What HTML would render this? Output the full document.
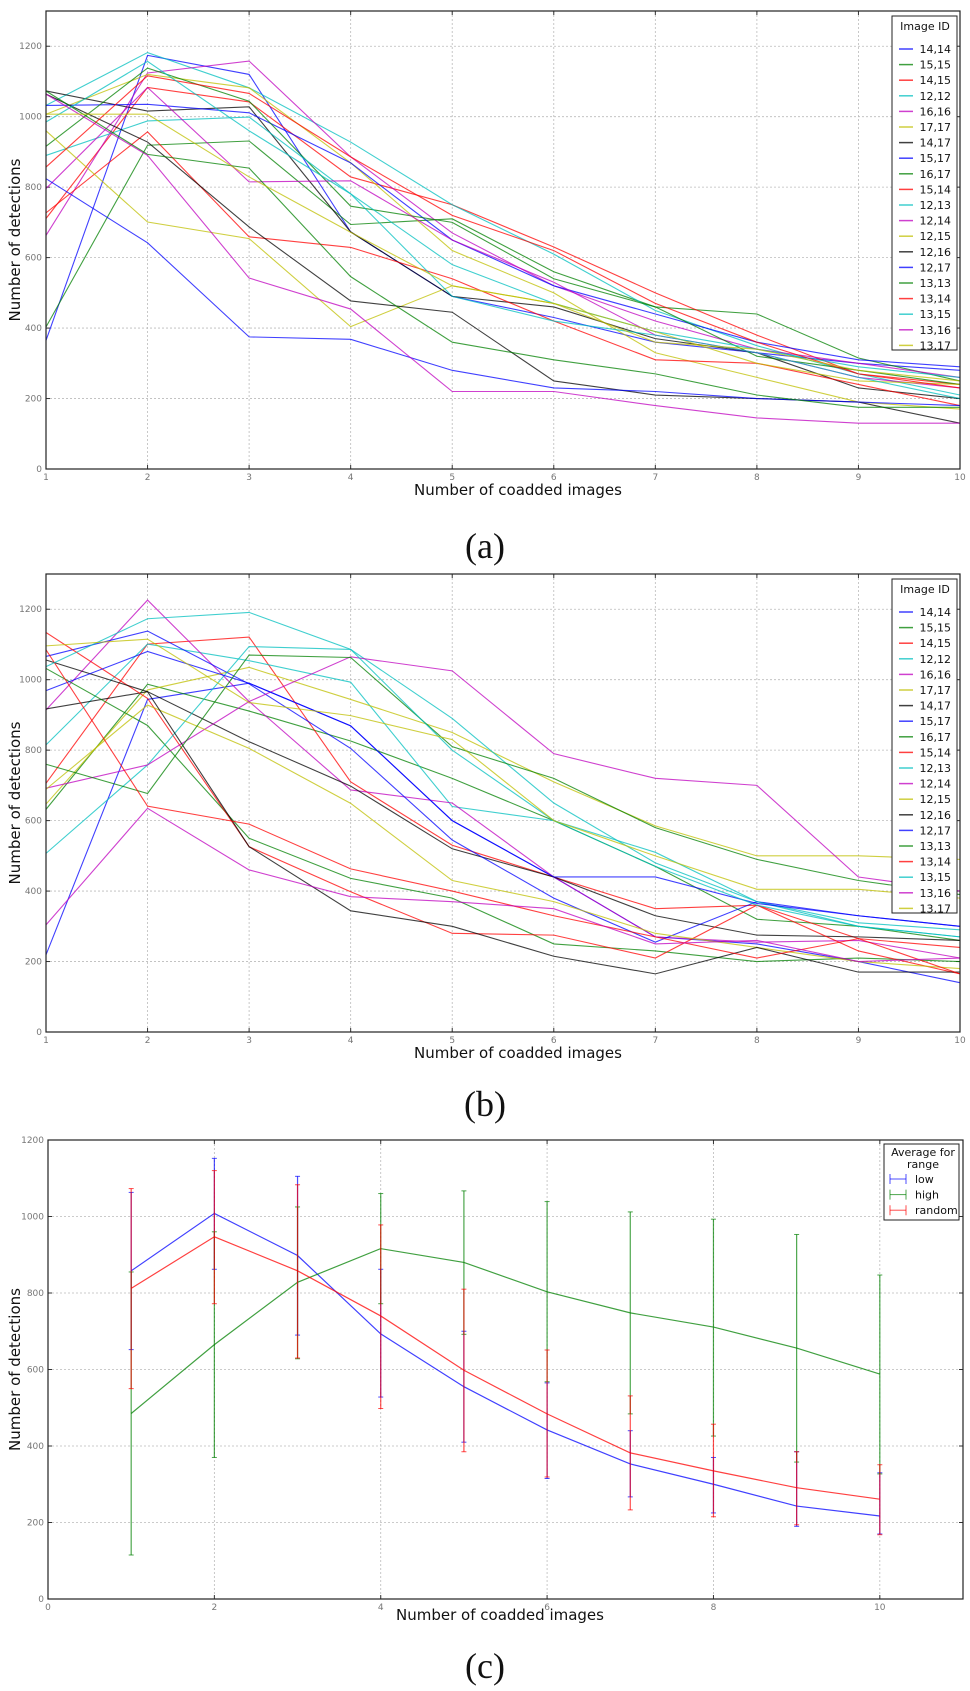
<!DOCTYPE html>
<html><head><meta charset="utf-8">
<style>
html,body{margin:0;padding:0;background:#fff;}
svg{display:block;font-family:"DejaVu Sans","Liberation Sans",sans-serif;}
.tick{font-size:9px;fill:#777;}
.axt{font-size:15px;fill:#111;}
.cap{font-family:"Liberation Serif",serif;font-size:36px;fill:#111;}
.leg{font-size:11px;fill:#111;}
</style></head>
<body>
<svg id="fig" width="970" height="1691" viewBox="0 0 970 1691" xmlns="http://www.w3.org/2000/svg">
<text class="cap" x="485" y="558" text-anchor="middle">(a)</text>
<text class="cap" x="485" y="1116" text-anchor="middle">(b)</text>
<text class="cap" x="485" y="1678" text-anchor="middle">(c)</text>
</svg>
<script>
const NS="http://www.w3.org/2000/svg";
const svg=document.getElementById('fig');
const ids=["14,14","15,15","14,15","12,12","16,16","17,17","14,17","15,17","16,17","15,14","12,13","12,14","12,15","12,16","12,17","13,13","13,14","13,15","13,16","13,17"];
const cycle=["#0000ff","#008000","#ff0000","#00bfbf","#bf00bf","#bfbf00","#000000"];
const xcats=[1,2,3,4,5,6,7,8,9,10];
const yticksAB=[0,200,400,600,800,1000,1200];
const seriesA=[
[365,1174,1120,673,490,430,360,330,300,280],
[403,919,931,694,710,560,460,440,315,250],
[711,1083,1042,829,750,630,500,380,270,240],
[1032,1182,1082,928,750,610,450,350,270,210],
[663,1124,1158,886,670,520,420,340,300,260],
[1007,1120,1082,869,620,500,330,260,190,170],
[1073,1016,1028,673,490,460,370,330,230,200],
[1032,1035,1011,869,650,520,440,360,310,290],
[916,1138,1044,746,700,540,460,320,280,240],
[727,957,659,629,540,420,310,300,240,180],
[890,988,999,781,580,470,390,340,290,260],
[796,1083,815,818,650,530,380,330,260,230],
[960,701,654,404,520,470,390,300,250,240],
[1064,928,687,477,445,250,210,200,190,130],
[824,642,375,368,280,230,220,200,190,180],
[1073,893,854,546,360,310,270,210,175,175],
[857,1116,1066,886,720,620,470,360,270,230],
[985,1157,960,781,490,420,380,330,260,200],
[1064,890,542,454,220,220,180,145,130,130],
[1007,1007,829,672,520,470,360,340,280,250]];
const seriesB=[
[219,944,990,869,600,440,270,250,200,140],
[632,987,911,826,720,600,470,320,300,260],
[706,1101,1121,710,530,440,350,360,265,240],
[815,1101,1054,993,640,600,510,370,310,290],
[914,1226,938,687,650,440,270,255,260,210],
[647,971,1035,944,850,710,585,500,500,490],
[917,966,824,698,520,440,330,275,270,260],
[1066,1138,988,805,545,380,255,370,330,300],
[1032,870,550,436,380,250,230,200,210,200],
[1134,947,526,398,280,275,210,360,230,165],
[507,758,1094,1086,890,650,480,370,300,270],
[692,758,938,1065,1025,790,720,700,440,400],
[689,928,805,649,430,370,280,240,200,180],
[1056,966,526,344,300,215,165,240,170,170],
[969,1080,990,869,600,440,440,365,330,300],
[760,677,1070,1063,810,720,580,490,430,390],
[1085,641,590,463,400,330,270,210,265,165],
[1037,1173,1191,1086,800,600,470,360,300,270],
[304,635,460,384,370,350,250,260,200,210],
[1096,1115,935,898,830,600,500,405,405,380]];
const cNames=["low","high","random"];
const cColors=["#0000ff","#008000","#ff0000"];
const cX=[1,2,3,4,5,6,7,8,9,10];
const cxTicks=[0,2,4,6,8,10];
const cyTicks=[0,200,400,600,800,1000,1200];
const lowVals=[858,1008,898,693,555,442,353,300,243,217];
const highVals=[485,665,828,916,880,803,748,711,656,588];
const randomVals=[812,947,858,740,598,484,382,335,291,261];
const lowLo=[652,862,690,528,410,315,267,225,190,170];
const lowHi=[1063,1152,1105,862,700,565,440,370,385,330];
const highLo=[115,370,628,772,692,568,484,426,358,327];
const highHi=[855,960,1025,1060,1067,1039,1012,993,953,847];
const randomLo=[550,772,630,498,385,319,233,215,194,168];
const randomHi=[1073,1120,1083,978,810,651,531,457,385,351];

function el(tag,attrs,parent){const e=document.createElementNS(NS,tag);for(const k in attrs)e.setAttribute(k,attrs[k]);(parent||svg).appendChild(e);return e;}
function txt(s,attrs,parent){const e=el('text',attrs,parent);e.textContent=s;return e;}

function axesFrame(g,L,R,T,B,xs,ys,xt,yt){
  const grid=el('g',{},g);
  
  
  xt.forEach(v=>{el('line',{x1:xs(v),x2:xs(v),y1:T,y2:B,stroke:'#bbb','stroke-dasharray':'2,2','stroke-width':0.8},grid);});
  yt.forEach(v=>{el('line',{x1:L,x2:R,y1:ys(v),y2:ys(v),stroke:'#bbb','stroke-dasharray':'2,2','stroke-width':0.8},grid);});
  const xa=el('g',{},g);
  
  
  xt.forEach(v=>{
    el('line',{x1:xs(v),x2:xs(v),y1:B,y2:B-4,stroke:'#333'},xa);
    el('line',{x1:xs(v),x2:xs(v),y1:T,y2:T+4,stroke:'#333'},xa);
    const t=txt(String(v),{x:xs(v),y:B+11,'text-anchor':'middle',class:'tick'},xa);
    
    
  });
  const ya=el('g',{},g);
  
  
  yt.forEach(v=>{
    el('line',{x1:L,x2:L+4,y1:ys(v),y2:ys(v),stroke:'#333'},ya);
    el('line',{x1:R,x2:R-4,y1:ys(v),y2:ys(v),stroke:'#333'},ya);
    const t=txt(String(v),{x:L-4,y:ys(v)+3,'text-anchor':'end',class:'tick'},ya);
    
    
  });
}
function frameRect(g,L,R,T,B){
  const f=el('rect',{x:L,y:T,width:R-L,height:B-T,fill:'none',stroke:'#222','stroke-width':1.2},g);
  
  
}

function linePanel(name,T,B,data){
  const L=46,R=960;
  const g=el('g',{});
  
  
  const xs=v=>L+(v-1)*(R-L)/9;
  const ys=v=>B-v*(B-T)/1300;
  axesFrame(g,L,R,T,B,xs,ys,xcats,yticksAB);
  data.forEach((s,i)=>{
    const p=el('polyline',{points:s.map((v,j)=>xs(xcats[j])+','+ys(v)).join(' '),fill:'none',stroke:cycle[i%7],'stroke-opacity':0.75,'stroke-width':1.1},g);
    
    
  });
  frameRect(g,L,R,T,B);
  const xt=txt('Number of coadded images',{x:518,y:B+26,'text-anchor':'middle',class:'axt'},g);
  
  
  const yt=txt('Number of detections',{x:0,y:0,'text-anchor':'middle',class:'axt',transform:'translate(20,'+((T+B)/2)+') rotate(-90)'},g);
  
  
  const lg=el('g',{},g);
  
  
  const LT=T+5;
  el('rect',{x:892,y:LT,width:65,height:334,fill:'#fff',stroke:'#222','stroke-width':1},lg);
  txt('Image ID',{x:925,y:LT+14,'text-anchor':'middle',class:'leg'},lg);
  ids.forEach((id,i)=>{
    const y=LT+33+i*15.6;
    const e=el('g',{},lg);
    
    
    el('line',{x1:899,x2:913,y1:y,y2:y,stroke:cycle[i%7],'stroke-opacity':0.75,'stroke-width':1.5},e);
    txt(id,{x:951,y:y+4,'text-anchor':'end',class:'leg'},e);
  });
}
linePanel('chart-a',11,469,seriesA);
linePanel('chart-b',574,1032,seriesB);

(function(){
  const L=48,R=963,T=1140,B=1599;
  const g=el('g',{});
  
  
  const xs=v=>L+v*(R-L)/11;
  const ys=v=>B-v*(B-T)/1200;
  axesFrame(g,L,R,T,B,xs,ys,cxTicks,cyTicks);
  const vals=[lowVals,highVals,randomVals],los=[lowLo,highLo,randomLo],his=[lowHi,highHi,randomHi];
  vals.forEach((s,i)=>{
    const sg=el('g',{},g);
    
    
    s.forEach((v,j)=>{
      const x=xs(cX[j]);
      const eb=el('g',{},sg);
      
      
      el('line',{x1:x,x2:x,y1:ys(los[i][j]),y2:ys(his[i][j]),stroke:cColors[i],'stroke-opacity':0.7,'stroke-width':1.2},eb);
      el('line',{x1:x-2.5,x2:x+2.5,y1:ys(los[i][j]),y2:ys(los[i][j]),stroke:cColors[i],'stroke-opacity':0.7},eb);
      el('line',{x1:x-2.5,x2:x+2.5,y1:ys(his[i][j]),y2:ys(his[i][j]),stroke:cColors[i],'stroke-opacity':0.7},eb);
    });
    const p=el('polyline',{points:s.map((v,j)=>xs(cX[j])+','+ys(v)).join(' '),fill:'none',stroke:cColors[i],'stroke-opacity':0.75,'stroke-width':1.2},sg);
    
    
  });
  frameRect(g,L,R,T,B);
  const xt=txt('Number of coadded images',{x:500,y:B+21,'text-anchor':'middle',class:'axt'},g);
  
  
  const yt=txt('Number of detections',{x:0,y:0,'text-anchor':'middle',class:'axt',transform:'translate(20,'+((T+B)/2)+') rotate(-90)'},g);
  
  
  const lg=el('g',{},g);
  
  
  el('rect',{x:884,y:1144,width:75,height:76,fill:'#fff',stroke:'#222'},lg);
  txt('Average for',{x:923,y:1156,'text-anchor':'middle',class:'leg'},lg);
  txt('range',{x:923,y:1168,'text-anchor':'middle',class:'leg'},lg);
  cNames.forEach((n,i)=>{
    const y=1179+i*15.6;
    const e=el('g',{},lg);
    
    
    el('line',{x1:890,x2:906,y1:y,y2:y,stroke:cColors[i],'stroke-opacity':0.7},e);
    el('line',{x1:890,x2:890,y1:y-5,y2:y+5,stroke:cColors[i],'stroke-opacity':0.7},e);
    el('line',{x1:906,x2:906,y1:y-5,y2:y+5,stroke:cColors[i],'stroke-opacity':0.7},e);
    txt(n,{x:915,y:y+4,class:'leg'},e);
  });
})();
</script>
</body></html>
